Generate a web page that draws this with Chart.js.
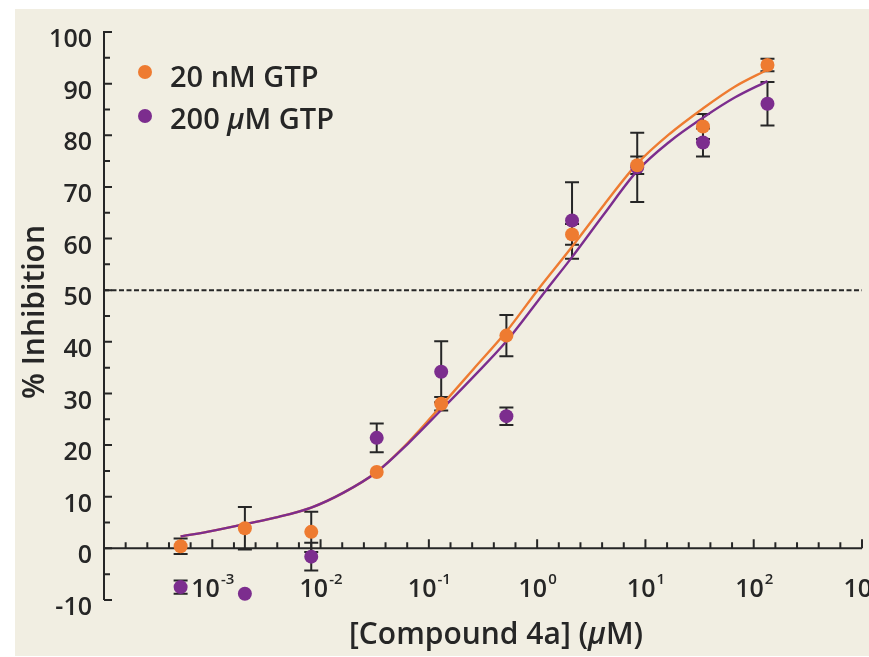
<!DOCTYPE html>
<html>
<head>
<meta charset="utf-8">
<script src="https://cdn.jsdelivr.net/npm/chart.js@4/dist/chart.umd.min.js"></script>
<style>
  html, body { margin: 0; padding: 0; background: #ffffff; }
  canvas { display: block; }
</style>
</head>
<body>
<canvas id="chart" width="869" height="657"></canvas>
<script>
// Compound 4a concentrations tested (µM), 4-fold dilution series
const concentrations = [0.00051, 0.002, 0.0082, 0.033, 0.13, 0.52, 2.1, 8.4, 34, 134];

// Mean % inhibition and error (±) at each concentration
const inhibition20nM    = [0.4, 3.9, 3.2, 14.8, 28.0, 41.2, 60.8, 74.2, 81.7, 93.6];
const error20nM         = [1.5, 4.1, 3.9, 0,    1.3,  4.0,  2.0,  1.7,  2.4,  1.2];
const inhibition200uM   = [-7.5, -8.8, -1.6, 21.4, 34.2, 25.6, 63.5, 73.8, 78.6, 86.1];
const error200uM        = [1.3,  0,    2.7,  2.8,  5.9,  1.7,  7.4,  6.7,  2.7,  4.2];

// Dose-response fit curves, sampled along the concentration range
const fitConc20nM  = [0.00051, 0.001, 0.002, 0.0041, 0.0082, 0.0163, 0.033, 0.065, 0.13, 0.26, 0.52, 1.01, 2.1, 4.17, 8.4, 16.8, 34, 66.8, 134];
const fit20nM      = [2.3,     3.4,   4.7,   6.1,    7.9,    10.8,   14.8,  20.6,  27.6, 34.8, 42.0, 50.0, 58.4, 66.6, 74.5, 80.3, 85.2, 89.4, 92.7];
const fitConc200uM = [0.00051, 0.001, 0.002, 0.0041, 0.0082, 0.0163, 0.033, 0.065, 0.13, 0.26, 0.52, 1.21, 2.1, 4.17, 8.4, 16.8, 34, 66.8, 134];
const fit200uM     = [2.3,     3.4,   4.7,   6.1,    7.9,    10.8,   14.8,  20.4,  26.8, 33.3, 40.1, 50.0, 56.4, 64.8, 73.1, 78.8, 83.4, 87.3, 90.5];

// Axis ticks
const yTickValues   = [-10, 0, 10, 20, 30, 40, 50, 60, 70, 80, 90, 100];
const xDecadeLabels = [-3, -2, -1, 0, 1, 2, 3];
const halfMaxLine   = 50;

const seriesNames = ['20 nM GTP', '200 µM GTP'];

const ORANGE = '#ee7b31';
const PURPLE = '#7c2d8e';
const INK    = '#262626';
const FONT   = '"Open Sans", "DejaVu Sans", sans-serif';

const toPoints = (xs, ys) => xs.map((x, i) => ({ x: x, y: ys[i] }));

// Draws a run of text pieces, some of them italic, starting at x
function drawRich(ctx, parts, x, y, size, weight) {
  let cx = x;
  for (const p of parts) {
    ctx.font = (p.italic ? 'italic ' : '') + weight + ' ' + size + 'px ' + FONT;
    ctx.fillText(p.text, cx, y);
    cx += ctx.measureText(p.text).width;
  }
  return cx - x;
}
function richWidth(ctx, parts, size, weight) {
  let w = 0;
  for (const p of parts) {
    ctx.font = (p.italic ? 'italic ' : '') + weight + ' ' + size + 'px ' + FONT;
    w += ctx.measureText(p.text).width;
  }
  return w;
}
function splitMicro(text) {
  const i = text.indexOf('µ');
  if (i < 0) return [{ text: text }];
  return [{ text: text.slice(0, i) }, { text: 'µ', italic: true }, { text: text.slice(i + 1) }];
}

// Beige panel behind the plot
const panelPlugin = {
  id: 'panel',
  beforeDraw(chart) {
    const ctx = chart.ctx;
    ctx.save();
    ctx.fillStyle = '#ffffff';
    ctx.fillRect(0, 0, chart.width, chart.height);
    ctx.fillStyle = '#f1eee2';
    ctx.fillRect(15, 9, chart.width - 15, chart.height - 10);
    ctx.restore();
  }
};

// Axes with inward ticks, 50% reference line and error bars
const axesPlugin = {
  id: 'axesAndErrors',
  beforeDatasetsDraw(chart) {
    const ctx = chart.ctx;
    const xs = chart.scales.x, ys = chart.scales.y;
    const left = xs.left, right = xs.right;
    const yZero = ys.getPixelForValue(0);
    ctx.save();
    ctx.strokeStyle = INK;
    ctx.fillStyle = INK;
    ctx.lineWidth = 2;
    ctx.lineCap = 'butt';

    // y axis line and ticks
    ctx.beginPath();
    ctx.moveTo(left, ys.getPixelForValue(yTickValues[0]));
    ctx.lineTo(left, ys.getPixelForValue(yTickValues[yTickValues.length - 1]) - 1);
    for (let v = yTickValues[0]; v <= yTickValues[yTickValues.length - 1]; v += 5) {
      const py = ys.getPixelForValue(v);
      const len = v % 10 === 0 ? 8 : 6;
      ctx.moveTo(left, py);
      ctx.lineTo(left + len, py);
    }
    ctx.stroke();

    // y tick labels
    ctx.font = '600 25px ' + FONT;
    ctx.textAlign = 'right';
    ctx.textBaseline = 'middle';
    for (const v of yTickValues) {
      ctx.fillText(String(v), left - 12, ys.getPixelForValue(v) + 8);
    }

    // x axis along y = 0, ticks every 0.2 decade
    ctx.beginPath();
    ctx.moveTo(left, yZero);
    ctx.lineTo(right, yZero);
    for (let k = 0; k <= 35; k++) {
      const e = -4 + k * 0.2;
      const px = xs.getPixelForValue(Math.pow(10, e));
      const major = k % 5 === 0;
      ctx.moveTo(px, yZero);
      ctx.lineTo(px, yZero - (major ? 9 : 6));
    }
    ctx.stroke();

    // x tick labels as powers of ten
    ctx.textAlign = 'left';
    ctx.textBaseline = 'alphabetic';
    for (const d of xDecadeLabels) {
      const px = xs.getPixelForValue(Math.pow(10, d));
      const base = '10', sup = String(d);
      ctx.font = '600 25px ' + FONT;
      const wb = ctx.measureText(base).width;
      ctx.font = '600 15px ' + FONT;
      const ws = ctx.measureText(sup).width;
      const x0 = px - (wb + ws) / 2;
      ctx.font = '600 25px ' + FONT;
      ctx.fillText(base, x0, yZero + 49);
      ctx.font = '600 15px ' + FONT;
      ctx.fillText(sup, x0 + wb + 1, yZero + 36);
    }

    // 50 % line
    const yHalf = ys.getPixelForValue(halfMaxLine);
    ctx.lineWidth = 2;
    ctx.setLineDash([5, 2.5]);
    ctx.beginPath();
    ctx.moveTo(left, yHalf);
    ctx.lineTo(right, yHalf);
    ctx.stroke();
    ctx.setLineDash([]);

    // error bars
    ctx.lineWidth = 2;
    const bars = [[inhibition20nM, error20nM], [inhibition200uM, error200uM]];
    for (const [vals, errs] of bars) {
      vals.forEach((v, i) => {
        const e = errs[i];
        if (!e) return;
        const px = xs.getPixelForValue(concentrations[i]);
        const top = ys.getPixelForValue(v + e);
        const bot = ys.getPixelForValue(v - e);
        ctx.beginPath();
        ctx.moveTo(px, top); ctx.lineTo(px, bot);
        ctx.moveTo(px - 7, top); ctx.lineTo(px + 7, top);
        ctx.moveTo(px - 7, bot); ctx.lineTo(px + 7, bot);
        ctx.stroke();
      });
    }
    ctx.restore();
  },
  afterDraw(chart) {
    const ctx = chart.ctx;
    ctx.save();
    ctx.fillStyle = INK;
    ctx.textBaseline = 'alphabetic';
    ctx.textAlign = 'left';

    // legend
    const colors = [ORANGE, PURPLE];
    const rows = [{ dotY: 72, base: 87 }, { dotY: 116, base: 129 }];
    seriesNames.forEach((name, i) => {
      ctx.fillStyle = colors[i];
      ctx.beginPath();
      ctx.arc(145, rows[i].dotY, 7, 0, Math.PI * 2);
      ctx.fill();
      ctx.fillStyle = INK;
      drawRich(ctx, splitMicro(name), 170, rows[i].base, 29, 600);
    });

    // x axis title
    const xTitle = splitMicro('[Compound 4a] (µM)');
    const wx = richWidth(ctx, xTitle, 30, 600);
    drawRich(ctx, xTitle, 496 - wx / 2, 644, 30, 600);

    // y axis title
    ctx.translate(35, 312);
    ctx.rotate(-Math.PI / 2);
    ctx.font = '600 30px ' + FONT;
    ctx.textAlign = 'center';
    ctx.textBaseline = 'middle';
    ctx.fillText('% Inhibition', 0, 0);
    ctx.restore();
  }
};

new Chart(document.getElementById('chart'), {
  type: 'scatter',
  data: {
    datasets: [
      {
        label: seriesNames[0],
        data: toPoints(concentrations, inhibition20nM),
        backgroundColor: ORANGE,
        borderWidth: 0,
        pointRadius: 7,
        order: 0
      },
      {
        label: seriesNames[1],
        data: toPoints(concentrations, inhibition200uM),
        backgroundColor: PURPLE,
        borderWidth: 0,
        pointRadius: 7,
        order: 1
      },
      {
        type: 'line',
        label: seriesNames[1] + ' fit',
        data: toPoints(fitConc200uM, fit200uM),
        borderColor: PURPLE,
        borderWidth: 2.4,
        pointRadius: 0,
        fill: false,
        cubicInterpolationMode: 'monotone',
        order: 2
      },
      {
        type: 'line',
        label: seriesNames[0] + ' fit',
        data: toPoints(fitConc20nM, fit20nM),
        borderColor: ORANGE,
        borderWidth: 2.4,
        pointRadius: 0,
        fill: false,
        cubicInterpolationMode: 'monotone',
        order: 3
      }
    ]
  },
  options: {
    responsive: false,
    animation: false,
    devicePixelRatio: 1,
    clip: false,
    layout: { padding: { left: 104, right: 3, top: 32, bottom: 57 } },
    plugins: { legend: { display: false }, tooltip: { enabled: false } },
    scales: {
      x: { type: 'logarithmic', min: 1e-4, max: 1e3, display: false },
      y: { type: 'linear', min: -10, max: 100, display: false }
    }
  },
  plugins: [panelPlugin, axesPlugin]
});
</script>
</body>
</html>
